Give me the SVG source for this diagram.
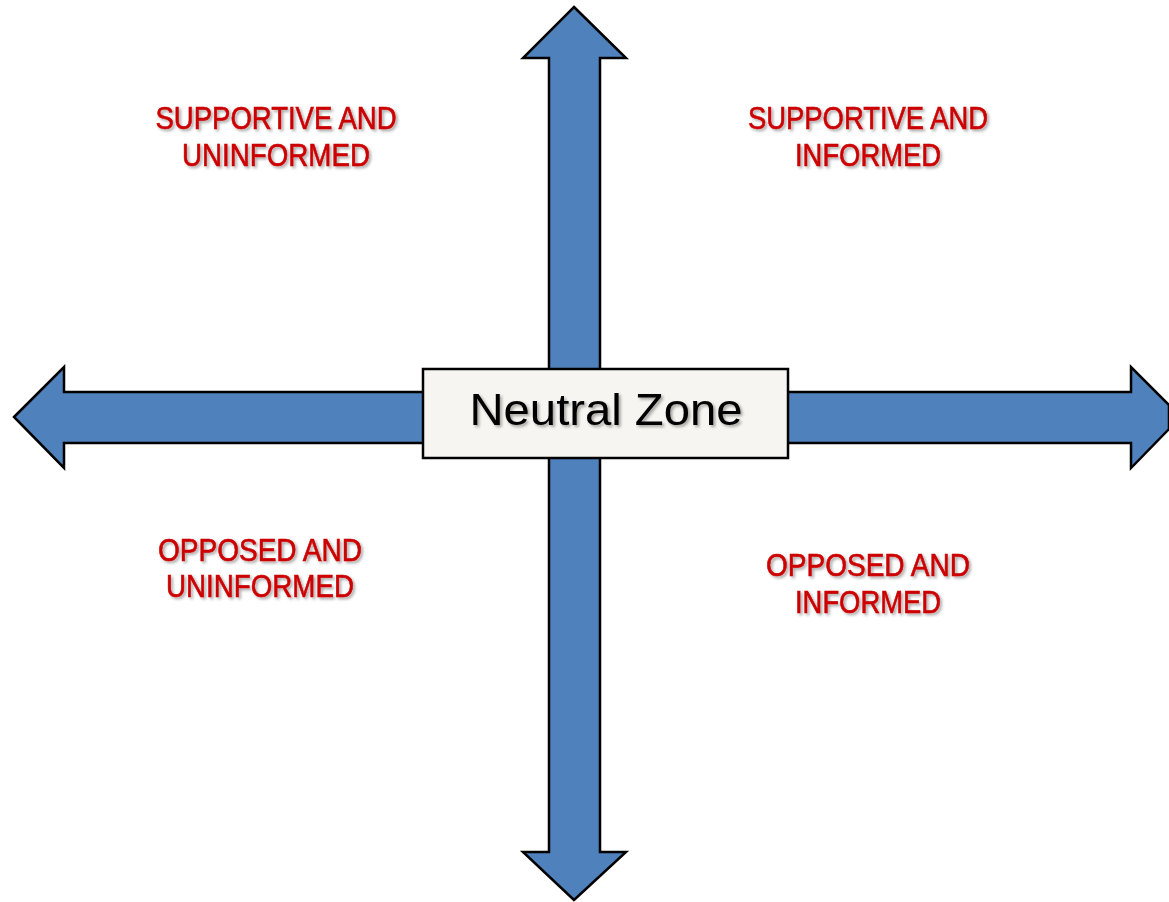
<svg xmlns="http://www.w3.org/2000/svg" width="1169" height="902" viewBox="0 0 1169 902">
<defs>
<filter id="sh" x="-10%" y="-20%" width="120%" height="150%">
<feDropShadow dx="2" dy="2" stdDeviation="1.5" flood-color="#000" flood-opacity="0.35"/>
</filter>
</defs>
<style>
.arrow{fill:#4f81bd;stroke:#000;stroke-width:2.5;stroke-linejoin:miter}
.lbl{font-family:"Liberation Sans Narrow","Liberation Sans",Arial,sans-serif;font-size:31px;fill:#cc0000;stroke:#cc0000;stroke-width:0.6;text-anchor:middle;filter:url(#sh)}
.box{fill:#f6f5f1;stroke:#000;stroke-width:2.5}
.nz{font-family:"Liberation Sans",Arial,sans-serif;font-size:45px;fill:#000;text-anchor:middle;filter:url(#sh)}
</style>
<rect width="1169" height="902" fill="#fff"/>
<g id="connectors">
<polygon class="arrow" points="14,417 64,367 64,392 1131,392 1131,367 1169,405 1169,429 1131,468 1131,443 64,443 64,468"/>
<polygon class="arrow" points="574,7 626,58 600,58 600,852 626,852 574,900 523,852 549,852 549,58 523,58"/>
</g>
<g id="neutral-zone">
<rect class="box" x="423" y="369" width="365" height="89"/>
<text class="nz" x="606" y="425" textLength="273" lengthAdjust="spacingAndGlyphs">Neutral Zone</text>
</g>
<g id="supportive-uninformed">
<text class="lbl" x="276" y="129" textLength="241" lengthAdjust="spacingAndGlyphs">SUPPORTIVE AND</text>
<text class="lbl" x="276" y="166" textLength="188" lengthAdjust="spacingAndGlyphs">UNINFORMED</text>
</g>
<g id="supportive-informed">
<text class="lbl" x="868" y="129" textLength="240" lengthAdjust="spacingAndGlyphs">SUPPORTIVE AND</text>
<text class="lbl" x="868" y="166" textLength="146" lengthAdjust="spacingAndGlyphs">INFORMED</text>
</g>
<g id="opposed-uninformed">
<text class="lbl" x="260" y="561" textLength="204" lengthAdjust="spacingAndGlyphs">OPPOSED AND</text>
<text class="lbl" x="260" y="597" textLength="188" lengthAdjust="spacingAndGlyphs">UNINFORMED</text>
</g>
<g id="opposed-informed">
<text class="lbl" x="868" y="576" textLength="204" lengthAdjust="spacingAndGlyphs">OPPOSED AND</text>
<text class="lbl" x="868" y="613" textLength="146" lengthAdjust="spacingAndGlyphs">INFORMED</text>
</g>
</svg>
